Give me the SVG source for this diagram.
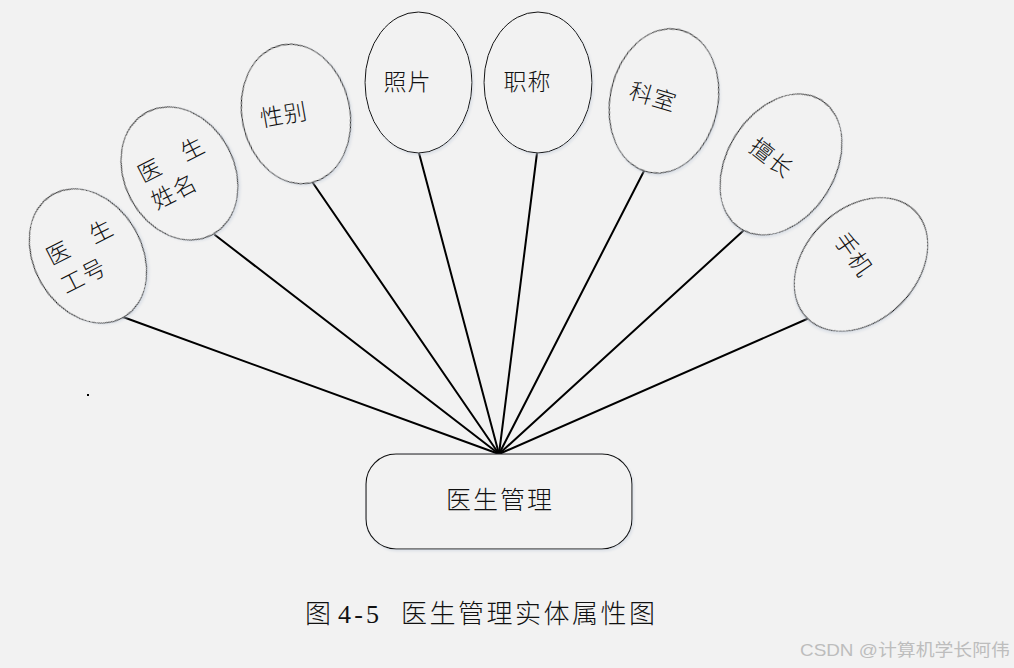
<svg xmlns="http://www.w3.org/2000/svg" width="1014" height="668" viewBox="0 0 1014 668">
<defs>
<filter id="sh" x="-20%" y="-20%" width="140%" height="140%">
<feDropShadow dx="1.5" dy="2" stdDeviation="1.2" flood-color="#c4cedc" flood-opacity="0.45"/>
</filter>
<style>
.attr{fill:#f2f2f2;stroke:#111;stroke-width:1;filter:url(#sh)}
.ent{fill:#f2f2f2;stroke:#111;stroke-width:1.1;filter:url(#sh)}
.lbl{font-family:"Liberation Serif","Noto Sans CJK SC",serif;font-size:23px;font-weight:300;fill:#111;letter-spacing:1px}
.mid{text-anchor:middle;dominant-baseline:central}
.conn line{stroke:#000;stroke-width:2;stroke-linecap:round}
.cap{font-family:"Liberation Serif","Noto Sans CJK SC",serif;font-size:26px;font-weight:300;fill:#111}
.wm{font-family:"Liberation Sans","Noto Sans CJK SC",sans-serif;font-size:17px;fill:#bdbdbd}
</style>
</defs>
<rect width="1014" height="668" fill="#f2f2f2"/>
<g id="connectors" class="conn">
<line x1="123" y1="317" x2="499" y2="454"/>
<line x1="215" y1="235" x2="499" y2="454"/>
<line x1="313" y1="183" x2="499" y2="454"/>
<line x1="419" y1="153" x2="499" y2="454"/>
<line x1="537" y1="153" x2="499" y2="454"/>
<line x1="644" y1="171" x2="499" y2="454"/>
<line x1="743" y1="231" x2="499" y2="454"/>
<line x1="807" y1="319" x2="499" y2="454"/>
</g>
<g id="node-doctor-id">
<ellipse class="attr" transform="translate(88,256) rotate(-30)" rx="54" ry="71"/>
<text class="lbl" transform="translate(88,256) rotate(-27)" dominant-baseline="central"><tspan x="-37" y="-16">医　生</tspan><tspan x="-37" y="16">工号</tspan></text>
</g>
<g id="node-doctor-name">
<ellipse class="attr" transform="translate(179.5,173.5) rotate(-28)" rx="55" ry="69.5"/>
<text class="lbl" transform="translate(179.5,173.5) rotate(-27)" dominant-baseline="central"><tspan x="-37" y="-16">医　生</tspan><tspan x="-37" y="14">姓名</tspan></text>
</g>
<g id="node-gender">
<ellipse class="attr" transform="translate(296,114) rotate(-12)" rx="54" ry="70.5"/>
<text class="lbl mid" transform="translate(284,115.5) rotate(-10)">性别</text>
</g>
<g id="node-photo">
<ellipse class="attr" cx="418.5" cy="82.5" rx="53.5" ry="70.5"/>
<text class="lbl mid" x="407.5" y="82">照片</text>
</g>
<g id="node-title">
<ellipse class="attr" cx="538" cy="82.5" rx="54" ry="70.5"/>
<text class="lbl mid" x="527.5" y="82">职称</text>
</g>
<g id="node-dept">
<ellipse class="attr" transform="translate(664,101) rotate(12)" rx="54" ry="73"/>
<text class="lbl mid" transform="translate(653,97.5) rotate(17)">科室</text>
</g>
<g id="node-specialty">
<ellipse class="attr" transform="translate(781,164.5) rotate(32)" rx="54" ry="76"/>
<text class="lbl mid" transform="translate(771,158.5) rotate(38)">擅长</text>
</g>
<g id="node-phone">
<ellipse class="attr" transform="translate(861,264.5) rotate(45)" rx="56" ry="76"/>
<text class="lbl mid" transform="translate(853,255) rotate(55)">手机</text>
</g>
<g id="node-doctor-mgmt">
<rect class="ent" x="366" y="454" width="266" height="95" rx="30" ry="30"/>
<text class="lbl mid" x="500" y="500.5" style="font-size:25px;letter-spacing:2px">医生管理</text>
</g>
<rect x="87" y="394" width="2" height="2" fill="#000"/>
<g id="caption">
<text class="cap" x="305" y="623">图</text>
<text class="cap" x="338" y="623" textLength="41" lengthAdjust="spacing">4-5</text>
<text class="cap" x="401" y="623" style="letter-spacing:2.5px">医生管理实体属性图</text>
</g>
<text class="wm" x="800" y="656" textLength="210" lengthAdjust="spacingAndGlyphs">CSDN @计算机学长阿伟</text>
</svg>
